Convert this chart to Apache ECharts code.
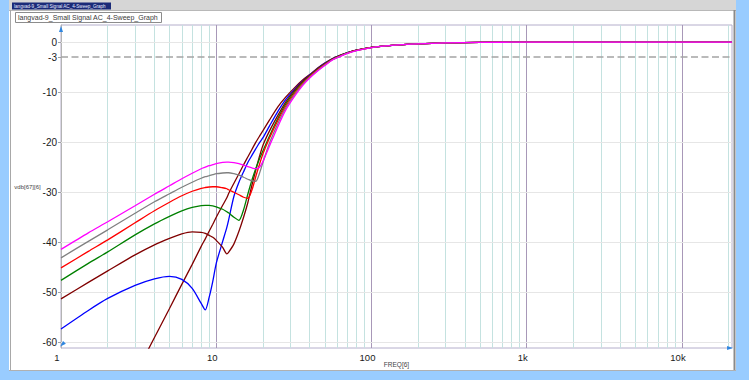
<!DOCTYPE html>
<html>
<head>
<meta charset="utf-8">
<script src="https://cdn.jsdelivr.net/npm/echarts@6/dist/echarts.min.js"></script>
<style>
html,body{margin:0;padding:0;background:#99ccff;}
#c{width:749px;height:380px;}
</style>
</head>
<body>
<div id="c"></div>
<script>
// ---- data ----
const freqs = [1, 1.5, 2, 3, 4, 5, 6, 7, 8, 8.5, 9, 9.5, 10, 11, 11.7, 12, 13, 14, 15, 16, 17, 18, 19, 20, 22, 25, 28, 32, 36, 40, 45, 50, 56, 63, 70, 80, 100, 130, 160, 200, 300, 500, 1000, 2000, 5000, 10000, 21000];

const steepMaroon = [null, null, null, -66.5, -59.0, -53.2, -48.4, -44.4, -40.8, -39.3, -37.8, -36.4, -35.0, -32.6, -31.1, -30.3, -28.2, -26.3, -24.5, -22.9, -21.4, -20.0, -18.8, -17.7, -15.6, -12.9, -11.0, -9.1, -7.6, -6.5, -5.2, -4.2, -3.3, -2.6, -2.1, -1.6, -1.05, -0.7, -0.5, -0.35, -0.17, -0.07, -0.02, -0.005, 0, 0, 0];
const blue = [-57.3, -53.6, -51.2, -48.6, -47.3, -46.8, -47.4, -49.2, -52.2, -53.5, -51.0, -47.8, -44.2, -39.8, -37.0, -35.6, -30.8, -28.0, -25.9, -24.0, -22.6, -21.3, -20.1, -19.1, -16.8, -13.8, -11.5, -9.4, -7.8, -6.6, -5.28, -4.27, -3.34, -2.64, -2.11, -1.61, -1.06, -0.7, -0.5, -0.35, -0.17, -0.07, -0.02, -0.005, 0, 0, 0];
const maroon = [-51.3, -48.0, -45.7, -42.5, -40.5, -39.2, -38.3, -37.9, -38.0, -38.2, -38.6, -39.0, -39.6, -41.0, -42.3, -42.0, -40.3, -37.8, -35.0, -32.0, -28.5, -25.5, -22.8, -20.6, -17.8, -14.6, -12.0, -9.6, -7.9, -6.7, -5.35, -4.35, -3.4, -2.68, -2.15, -1.63, -1.07, -0.7, -0.5, -0.35, -0.17, -0.07, -0.02, -0.005, 0, 0, 0];
const green = [-47.6, -44.2, -41.9, -38.5, -36.3, -34.8, -33.7, -33.0, -32.65, -32.6, -32.6, -32.7, -32.9, -33.4, -33.9, -34.1, -35.0, -35.6, -33.5, -30.3, -27.5, -25.2, -23.3, -21.7, -18.8, -15.2, -12.4, -9.9, -8.1, -6.8, -5.45, -4.45, -3.45, -2.7, -2.17, -1.65, -1.08, -0.7, -0.5, -0.35, -0.17, -0.07, -0.02, -0.005, 0, 0, 0];
const red = [-45.1, -41.8, -39.5, -36.1, -33.7, -32.0, -30.7, -29.8, -29.2, -29.05, -28.95, -28.9, -28.9, -29.1, -29.3, -29.5, -30.0, -30.5, -31.0, -31.2, -29.5, -26.8, -24.4, -22.3, -19.2, -15.6, -12.8, -10.2, -8.3, -6.9, -5.55, -4.5, -3.5, -2.75, -2.2, -1.68, -1.09, -0.71, -0.51, -0.35, -0.17, -0.07, -0.02, -0.005, 0, 0, 0];
const gray = [-43.1, -39.8, -37.5, -34.2, -31.9, -30.3, -29.0, -28.0, -27.2, -26.9, -26.7, -26.5, -26.3, -26.15, -26.1, -26.1, -26.3, -26.6, -27.0, -27.4, -27.75, -27.8, -26.2, -24.0, -20.2, -16.2, -13.2, -10.5, -8.5, -7.05, -5.7, -4.6, -3.55, -2.8, -2.23, -1.7, -1.1, -0.72, -0.52, -0.36, -0.17, -0.07, -0.02, -0.005, 0, 0, 0];
const magenta = [-41.4, -38.1, -35.9, -32.7, -30.4, -28.7, -27.3, -26.2, -25.3, -25.0, -24.7, -24.5, -24.3, -24.05, -24.0, -24.0, -24.1, -24.3, -24.6, -24.9, -25.15, -25.3, -25.0, -23.8, -20.8, -16.8, -13.6, -10.8, -8.7, -7.2, -5.8, -4.7, -3.6, -2.85, -2.27, -1.73, -1.11, -0.72, -0.52, -0.36, -0.17, -0.07, -0.02, -0.005, 0, 0, 0];

const yTickValues = [0, -3, -10, -20, -30, -40, -50, -60];
const hGridValues = [0, -10, -20, -30, -40, -50, -60];
const minorFreqs = [2,3,4,5,6,7,8,9, 20,30,40,50,60,70,80,90, 200,300,400,500,600,700,800,900, 2000,3000,4000,5000,6000,7000,8000,9000, 20000];
const decadeFreqs = [10, 100, 1000, 10000];
const levelDb = -3;

const seriesDefs = [
  {name: 'steep', data: steepMaroon, color: '#800000'},
  {name: 'blue', data: blue, color: '#0000ff'},
  {name: 'maroon', data: maroon, color: '#800000'},
  {name: 'green', data: green, color: '#008000'},
  {name: 'red', data: red, color: '#ff0000'},
  {name: 'gray', data: gray, color: '#808080'},
  {name: 'magenta', data: magenta, color: '#ff00ff'}
];

const chart = echarts.init(document.getElementById('c'), null, {renderer: 'svg'});

const gridLines = [];
minorFreqs.forEach(f => gridLines.push({xAxis: f, lineStyle: {color: '#c4e2e0', width: 1, type: 'solid'}}));
decadeFreqs.forEach(f => gridLines.push({xAxis: f, lineStyle: {color: '#a898b8', width: 1, type: 'solid'}}));
hGridValues.forEach(v => gridLines.push({yAxis: v, lineStyle: {color: '#e6e6e6', width: 1, type: 'solid'}}));

const series = [{
  type: 'line', data: [], z: 1, silent: true,
  markLine: {z: 1, silent: true, symbol: 'none', label: {show: false}, animation: false, data: gridLines}
}, {
  type: 'line', data: [], z: 2, silent: true,
  markLine: {z: 2, silent: true, symbol: 'none', label: {show: false}, animation: false,
    data: [{yAxis: levelDb, lineStyle: {color: '#a4a4a4', width: 1.5, type: [7, 3.5]}}]},
  markPoint: {
    z: 12, silent: true, animation: false, label: {show: false},
    itemStyle: {color: '#2f86e0'},
    data: [
      {coord: [1, 2.6], symbol: 'triangle', symbolSize: [4, 6]},
      {coord: [1.02, -60.4], symbol: 'triangle', symbolSize: [4, 6], symbolRotate: 135},
      {coord: [20400, -61.1], symbol: 'triangle', symbolSize: [4, 6], symbolRotate: -90}
    ]
  }
}];
seriesDefs.forEach((s, i) => {
  series.push({
    type: 'line', name: s.name, z: 3 + i,
    data: freqs.map((f, k) => [f, s.data[k]]),
    showSymbol: false, smooth: 0.25, connectNulls: false,
    lineStyle: {color: s.color, width: 1.3, type: 'solid'},
    itemStyle: {color: s.color},
    animation: false, clip: true
  });
});

const option = {
  animation: false,
  backgroundColor: 'transparent',
  textStyle: {fontFamily: 'Liberation Sans, Arial, sans-serif'},
  graphic: [
    {type: 'rect', shape: {x: 9, y: 0, width: 727, height: 371}, style: {fill: '#ffffff'}, z: -10},
    {type: 'rect', shape: {x: 9, y: 0, width: 727, height: 10}, style: {fill: '#d6d6d6'}, z: -9},
    {type: 'line', shape: {x1: 9, y1: 10.5, x2: 736, y2: 10.5}, style: {stroke: '#b8b8b8', lineWidth: 1}, z: -8},
    {type: 'line', shape: {x1: 10.5, y1: 10, x2: 10.5, y2: 370}, style: {stroke: '#a8a8a8', lineWidth: 1}, z: -8},
    {type: 'line', shape: {x1: 734.5, y1: 10, x2: 734.5, y2: 371}, style: {stroke: '#8a8a8a', lineWidth: 2}, z: -8},
    {type: 'line', shape: {x1: 9, y1: 370.5, x2: 736, y2: 370.5}, style: {stroke: '#b0b0b0', lineWidth: 1}, z: -8},
    {type: 'rect', shape: {x: 12, y: 2.5, width: 99, height: 7}, style: {fill: '#1a2a78'}, z: -7},
    {type: 'text', x: 14, y: 6, style: {text: 'langvad-9_Small Signal AC_4-Sweep_Graph', fill: '#e8ecff', font: '4.6px Liberation Sans, Arial, sans-serif', textVerticalAlign: 'middle'}, z: -6},
    {type: 'rect', shape: {x: 15.5, y: 12.5, width: 146, height: 10}, style: {fill: '#ffffff', stroke: '#8c8c8c', lineWidth: 1}, z: -7},
    {type: 'text', x: 18, y: 17.8, style: {text: 'langvad-9_Small Signal AC_4-Sweep_Graph', fill: '#3a3a3a', font: '7px Liberation Sans, Arial, sans-serif', textVerticalAlign: 'middle'}, z: -6},
    {type: 'text', x: 27.5, y: 187, style: {text: 'vdb[67][6]', fill: '#444', font: '6px Liberation Sans, Arial, sans-serif', textAlign: 'center', textVerticalAlign: 'middle'}, z: 5}
  ],
  grid: {left: 61, right: 17, top: 25, bottom: 32, show: true, borderColor: '#b4aecb', borderWidth: 1, backgroundColor: 'transparent'},
  xAxis: {
    type: 'log', logBase: 10, min: 1, max: 21000,
    name: 'FREQ[6]', nameLocation: 'middle', nameGap: 13, nameMoveOverlap: false,
    nameTextStyle: {fontSize: 6.5, color: '#444'},
    axisLine: {show: true, lineStyle: {color: '#c4c4c4', width: 1}},
    axisTick: {show: false},
    splitLine: {show: false},
    minorTick: {show: false},
    axisLabel: {
      fontSize: 9.5, color: '#1a1a1a', margin: 4, padding: [0, 8, 0, 0], showMaxLabel: false,
      formatter: v => { const r = Math.round(v); return r >= 1000 ? (r / 1000) + 'k' : String(r); }
    }
  },
  yAxis: {
    type: 'value', min: -61.1, max: 3.4,
    axisLine: {show: true, lineStyle: {color: '#b4b4b4', width: 1}},
    axisTick: {show: true, length: 3, customValues: yTickValues, lineStyle: {color: '#a0a0a0'}},
    splitLine: {show: false},
    axisLabel: {fontSize: 10, color: '#1a1a1a', margin: 4, customValues: yTickValues}
  },
  series: series
};
chart.setOption(option);
</script>
</body>
</html>
